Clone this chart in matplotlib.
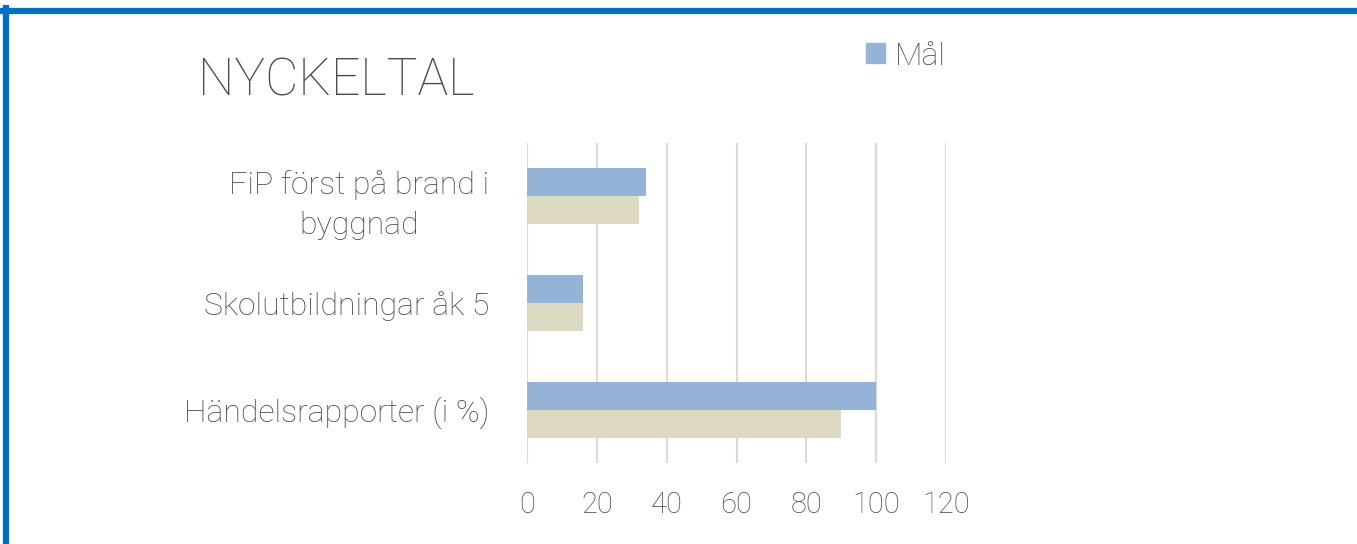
import numpy as np
import matplotlib
matplotlib.use("Agg")
import matplotlib.pyplot as plt
from matplotlib.patches import Patch

plt.rcParams['font.family'] = ['Roboto', 'DejaVu Sans']

# data
categories = ["FiP först på brand i\nbyggnad", "Skolutbildningar åk 5", "Händelsrapporter (i %)"]
mal = [34, 16, 100]
utfall = [32, 16, 90]
xticks = [0, 20, 40, 60, 80, 100, 120]

blue = "#95B3D7"
beige = "#DDD9C3"
grey = "#4a4a4a"

fig = plt.figure(figsize=(13.57, 5.44), dpi=100)
ax = fig.add_axes([0.3884, 0.1489, 0.3087, 0.5882])

y = np.arange(len(categories))
h = 0.2625
ax.barh(y - h / 2, mal, height=h, color=blue, zorder=3)
ax.barh(y + h / 2, utfall, height=h, color=beige, zorder=3)

ax.set_ylim(len(categories) - 0.5, -0.5)
ax.set_xlim(0, 120)
ax.set_xticks(xticks)
ax.set_xticklabels([str(t) for t in xticks])
ax.set_yticks(y)
ax.set_yticklabels(categories, multialignment="center")
ax.tick_params(axis="x", length=0, labelsize=21, colors=grey, pad=20)
ax.tick_params(axis="y", length=0, labelsize=23, colors=grey, pad=27)
for lab in ax.get_xticklabels() + ax.get_yticklabels():
    lab.set_fontweight("light")
    lab.set_linespacing(1.5)
ax.grid(axis="x", color="#D9D9D9", linewidth=1.5, zorder=0)
for s in ax.spines.values():
    s.set_visible(False)

fig.text(0.146, 0.851, "NYCKELTAL", fontsize=37, color=grey,
         fontweight="light", va="center", ha="left")

fig.legend(handles=[Patch(color=blue, label="Mål")], loc="center left",
           bbox_to_anchor=(0.617, 0.897), frameon=False,
           handlelength=0.6, handleheight=0.6, handletextpad=0.3,
           labelcolor=grey, prop={"weight": "light", "size": 23})

# blue frame on top and left
fig.add_artist(plt.Line2D([0, 1], [1 - 11 / 544, 1 - 11 / 544], color="#0070C0", linewidth=4.5))
fig.add_artist(plt.Line2D([5.5 / 1357, 5.5 / 1357], [0, 1 - 8 / 544], color="#0070C0", linewidth=4.5))

fig.savefig("out.png", dpi=100, facecolor="white")
